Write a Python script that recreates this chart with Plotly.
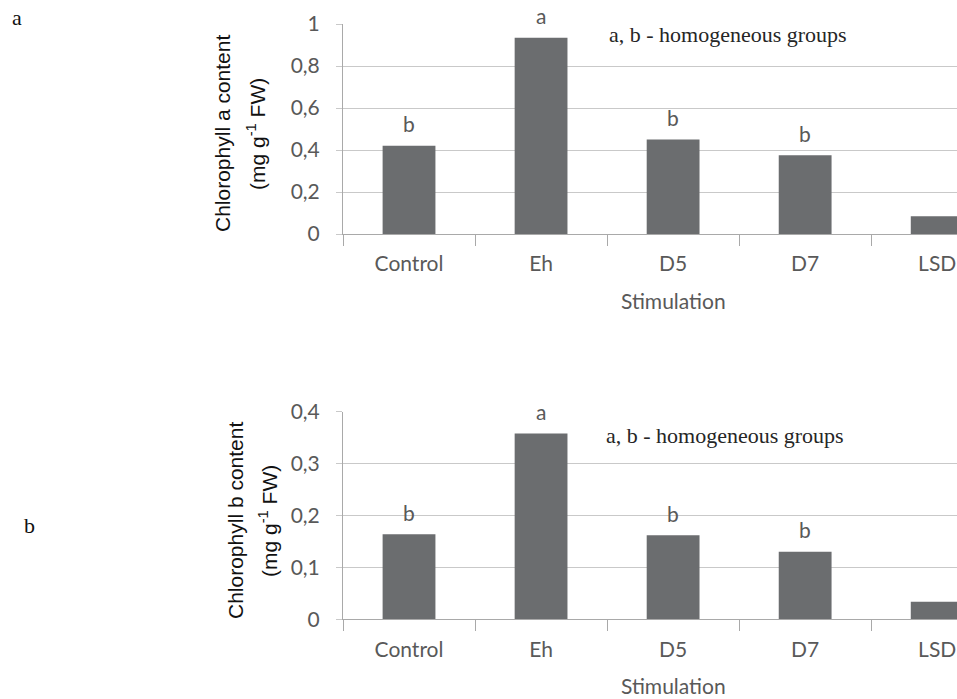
import plotly.graph_objects as go

categories = ["Control", "Eh", "D5", "D7", "LSD"]
chl_a = [0.42, 0.935, 0.45, 0.375, 0.085]
chl_b = [0.164, 0.358, 0.162, 0.130, 0.034]
groups = ["b", "a", "b", "b", ""]
y_ticks_a = [0, 0.2, 0.4, 0.6, 0.8, 1]
y_ticks_b = [0, 0.1, 0.2, 0.3, 0.4]

W, H = 957, 699
BAR = "#6b6d6f"
GRID = "#c9c9c9"
LINE = "#a9a9a9"
TICKC = "#595959"
SANS = "Lato, 'Open Sans', sans-serif"
ARIAL = "'Liberation Sans', Arial, sans-serif"
SERIF = "'Liberation Serif', 'Times New Roman', serif"

def py(px):
    return 1 - px / H

fig = go.Figure()
fig.add_trace(go.Bar(x=categories, y=chl_a, xaxis="x", yaxis="y",
                     marker=dict(color=BAR, line=dict(width=0)), width=0.4))
fig.add_trace(go.Bar(x=categories, y=chl_b, xaxis="x2", yaxis="y2",
                     marker=dict(color=BAR, line=dict(width=0)), width=0.4))

xdom = [343 / W, 1.0]
xcommon = dict(range=[-0.5, 4.15], tickson="boundaries", ticks="outside", ticklen=11,
               tickcolor=LINE, showline=True, linecolor=LINE, linewidth=1, showgrid=False,
               tickfont=dict(family=SANS, size=21, color=TICKC), ticklabelstandoff=11,
               zeroline=False, fixedrange=True, automargin=False)
ycommon = dict(ticks="outside", ticklen=6, tickcolor=GRID, showline=True, linecolor=LINE,
               linewidth=1, showgrid=True, gridcolor=GRID, gridwidth=1, zeroline=False,
               tickfont=dict(family=SANS, size=21, color=TICKC), ticklabelstandoff=12,
               automargin=False)

fig.update_layout(
    width=W, height=H, margin=dict(l=0, r=0, t=0, b=0),
    template="none", paper_bgcolor="white", plot_bgcolor="white",
    showlegend=False, separators=", ",
    xaxis=dict(domain=xdom, anchor="y", **xcommon),
    yaxis=dict(domain=[py(234), py(24)], anchor="x", range=[0, 1], tickvals=y_ticks_a, **ycommon),
    xaxis2=dict(domain=xdom, anchor="y2", **xcommon),
    yaxis2=dict(domain=[py(619.3), py(411.7)], anchor="x2", range=[0, 0.4], tickvals=y_ticks_b, **ycommon),
)

ann = []
for xa, ya, vals in (("x", "y", chl_a), ("x2", "y2", chl_b)):
    for c, v, g in zip(categories, vals, groups):
        if g:
            ann.append(dict(x=c, y=v, xref=xa, yref=ya, text=g, showarrow=False,
                            yshift=22, yanchor="middle",
                            font=dict(family=SANS, size=21, color=TICKC)))
# group notes
ann.append(dict(x=1.5, y=0.952, xref="x", yref="y", text="a, b - homogeneous groups",
                showarrow=False, xanchor="left", yanchor="middle",
                font=dict(family=SERIF, size=22, color="#262626")))
ann.append(dict(x=1.48, y=0.355, xref="x2", yref="y2", text="a, b - homogeneous groups",
                showarrow=False, xanchor="left", yanchor="middle",
                font=dict(family=SERIF, size=22, color="#262626")))
# x titles
for xa, ypx in (("x", 300), ("x2", 685)):
    ann.append(dict(x=2, y=py(ypx), xref=xa, yref="paper", text="Stimulation", showarrow=False,
                    xanchor="center", yanchor="middle",
                    font=dict(family=SANS, size=21, color=TICKC)))
# y titles
for (l1, x1, x2, yc) in (("Chlorophyll a content", 223, 256, 134),
                         ("Chlorophyll b content", 235, 268, 521)):
    ann.append(dict(x=x1 / W, y=py(yc), xref="paper", yref="paper", text=l1, textangle=-90,
                    showarrow=False, xanchor="center", yanchor="middle",
                    font=dict(family=ARIAL, size=21, color="#111111")))
    ann.append(dict(x=x2 / W, y=py(yc), xref="paper", yref="paper",
                    text="(mg g<sup>-1</sup> FW)", textangle=-90,
                    showarrow=False, xanchor="center", yanchor="middle",
                    font=dict(family=ARIAL, size=21, color="#111111")))
# panel letters
ann.append(dict(x=17 / W, y=py(17), xref="paper", yref="paper", text="a", showarrow=False,
                xanchor="center", yanchor="middle", font=dict(family=SERIF, size=22, color="#111111")))
ann.append(dict(x=30 / W, y=py(525), xref="paper", yref="paper", text="b", showarrow=False,
                xanchor="center", yanchor="middle", font=dict(family=SERIF, size=22, color="#111111")))

fig.update_layout(annotations=ann)
fig.write_html("out.html")
